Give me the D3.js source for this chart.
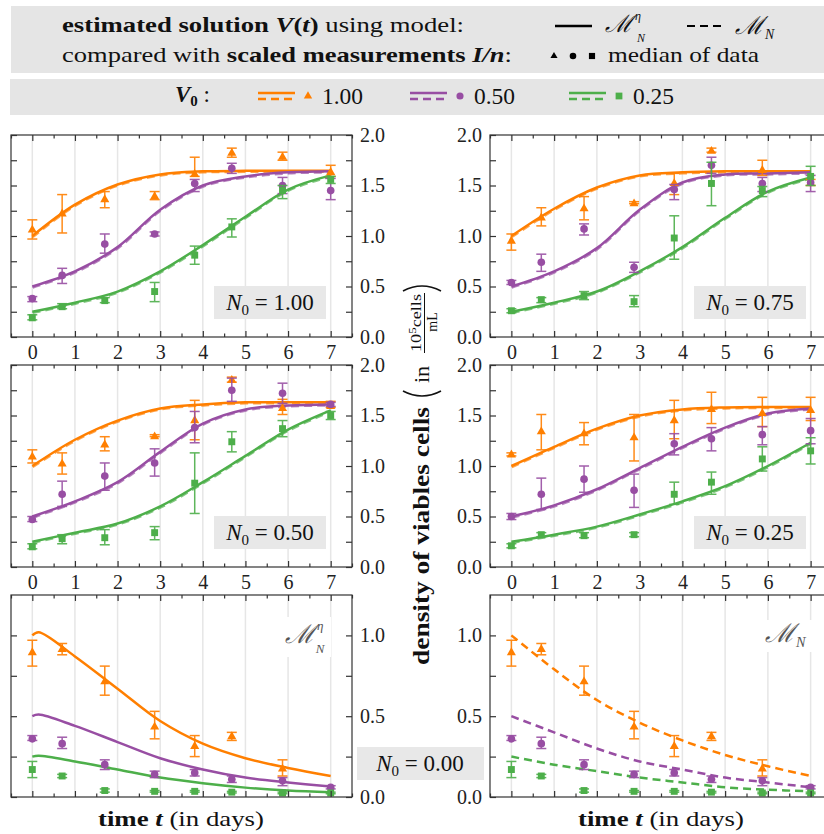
<!DOCTYPE html>
<html>
<head>
<meta charset="utf-8">
<script src="https://cdn.jsdelivr.net/npm/d3@7"></script>
<style>
  body { margin: 0; background: #fff; }
  text { font-family: "Liberation Serif", "DejaVu Serif", serif; }
</style>
</head>
<body>
<div id="chart"></div>
<script>
// ---- data ----
const days = [0, 0.7, 1.7, 2.87, 3.81, 4.68, 5.87, 7];   // measurement times
const fitDays = [0, 1, 2, 3, 4, 5, 6, 7];               // model curve sample points
const fitDaysEta0 = [0, 0.15, 1, 2, 3, 4, 5, 6, 7];     // N0 = 0, model M^eta_N
const v0Labels = ["1.00", "0.50", "0.25"];
const yTicksTop = [0, 0.5, 1, 1.5, 2];
const yTicksBottom = [0, 0.5, 1];

// rows: [orange V0=1, purple V0=0.5, green V0=0.25]
const med_N100 = [[1.07, 1.23, 1.37, 1.40, 1.62, 1.83, 1.79, 1.64],
                  [0.38, 0.61, 0.92, 1.02, 1.52, 1.67, 1.50, 1.45],
                  [0.19, 0.30, 0.36, 0.45, 0.81, 1.09, 1.45, 1.56]];
const lo_N100 = [[0.97, 1.03, 1.28, 1.36, 1.59, 1.78, 1.75, 1.59],
                 [0.35, 0.53, 0.83, 1.00, 1.44, 1.62, 1.42, 1.36],
                 [0.17, 0.28, 0.34, 0.35, 0.72, 0.99, 1.37, 1.52]];
const hi_N100 = [[1.16, 1.41, 1.44, 1.44, 1.78, 1.87, 1.83, 1.70],
                 [0.40, 0.68, 1.02, 1.04, 1.56, 1.72, 1.58, 1.57],
                 [0.22, 0.33, 0.39, 0.54, 0.90, 1.17, 1.50, 1.59]];
const fit_N100 = [[1.00, 1.31, 1.51, 1.61, 1.64, 1.645, 1.645, 1.645],
                  [0.50, 0.65, 0.89, 1.26, 1.50, 1.59, 1.63, 1.64],
                  [0.25, 0.34, 0.45, 0.65, 0.91, 1.19, 1.46, 1.60]];

const med_N075 = [[0.96, 1.19, 1.28, 1.33, 1.53, 1.85, 1.66, 1.53],
                  [0.54, 0.74, 1.07, 0.69, 1.46, 1.70, 1.52, 1.53],
                  [0.26, 0.37, 0.41, 0.35, 0.98, 1.52, 1.45, 1.59]];
const lo_N075 = [[0.86, 1.10, 1.16, 1.32, 1.41, 1.83, 1.60, 1.50],
                 [0.52, 0.65, 1.01, 0.64, 1.36, 1.62, 1.44, 1.44],
                 [0.24, 0.34, 0.37, 0.30, 0.77, 1.30, 1.39, 1.50]];
const hi_N075 = [[1.02, 1.28, 1.39, 1.34, 1.62, 1.87, 1.75, 1.56],
                 [0.56, 0.82, 1.12, 0.74, 1.51, 1.78, 1.58, 1.60],
                 [0.28, 0.39, 0.45, 0.41, 1.20, 1.73, 1.49, 1.69]];
const fit_N075 = [[1.00, 1.27, 1.48, 1.60, 1.63, 1.64, 1.64, 1.64],
                  [0.50, 0.65, 0.88, 1.26, 1.53, 1.61, 1.62, 1.63],
                  [0.25, 0.34, 0.45, 0.65, 0.89, 1.18, 1.44, 1.58]];

const med_N050 = [[1.10, 1.03, 1.22, 1.30, 1.46, 1.86, 1.58, 1.60],
                  [0.47, 0.72, 0.90, 1.03, 1.38, 1.75, 1.72, 1.61],
                  [0.20, 0.28, 0.29, 0.34, 0.83, 1.24, 1.37, 1.50]];
const lo_N050 = [[1.03, 0.92, 1.15, 1.29, 1.26, 1.83, 1.51, 1.58],
                 [0.45, 0.60, 0.76, 0.90, 1.23, 1.64, 1.62, 1.59],
                 [0.18, 0.23, 0.22, 0.27, 0.53, 1.14, 1.29, 1.46]];
const hi_N050 = [[1.16, 1.13, 1.29, 1.31, 1.65, 1.88, 1.66, 1.64],
                 [0.50, 0.85, 1.03, 1.17, 1.54, 1.87, 1.82, 1.63],
                 [0.23, 0.32, 0.37, 0.40, 1.13, 1.34, 1.45, 1.54]];
const fit_N050 = [[1.00, 1.26, 1.45, 1.57, 1.61, 1.63, 1.63, 1.63],
                  [0.50, 0.65, 0.84, 1.14, 1.42, 1.56, 1.60, 1.61],
                  [0.25, 0.34, 0.43, 0.60, 0.84, 1.10, 1.36, 1.55]];

const med_N025 = [[1.12, 1.35, 1.33, 1.29, 1.46, 1.57, 1.53, 1.56],
                  [0.50, 0.72, 0.87, 0.76, 1.22, 1.27, 1.31, 1.35],
                  [0.21, 0.32, 0.31, 0.32, 0.72, 0.84, 1.07, 1.15]];
const lo_N025 = [[1.10, 1.16, 1.21, 1.05, 1.27, 1.42, 1.39, 1.45],
                 [0.47, 0.57, 0.74, 0.59, 1.11, 1.15, 1.21, 1.22],
                 [0.19, 0.30, 0.29, 0.30, 0.62, 0.72, 0.95, 1.02]];
const hi_N025 = [[1.13, 1.51, 1.43, 1.51, 1.65, 1.73, 1.68, 1.68],
                 [0.53, 0.88, 1.00, 0.92, 1.32, 1.38, 1.39, 1.47],
                 [0.23, 0.34, 0.34, 0.34, 0.84, 0.94, 1.19, 1.28]];
const fit_N025 = [[1.00, 1.19, 1.37, 1.50, 1.56, 1.58, 1.585, 1.585],
                  [0.50, 0.61, 0.77, 0.98, 1.19, 1.38, 1.52, 1.57],
                  [0.25, 0.32, 0.40, 0.52, 0.65, 0.80, 1.00, 1.23]];

const med_N000 = [[0.90, 0.92, 0.72, 0.44, 0.32, 0.38, 0.18, null],
                  [0.36, 0.33, 0.20, 0.14, 0.15, 0.11, 0.10, 0.06],
                  [0.17, 0.13, 0.04, 0.035, 0.035, 0.03, 0.025, 0.025]];
const lo_N000 = [[0.81, 0.88, 0.63, 0.36, 0.25, 0.35, 0.13, null],
                 [0.35, 0.30, 0.17, 0.12, 0.13, 0.09, 0.07, 0.05],
                 [0.12, 0.12, 0.03, 0.03, 0.03, 0.025, 0.02, 0.02]];
const hi_N000 = [[0.97, 0.95, 0.81, 0.53, 0.38, 0.40, 0.23, null],
                 [0.38, 0.37, 0.23, 0.16, 0.17, 0.13, 0.12, 0.07],
                 [0.22, 0.14, 0.05, 0.04, 0.04, 0.035, 0.03, 0.03]];
const fitEta_N000 = [[1.00, 1.02, 0.87, 0.67, 0.47, 0.33, 0.24, 0.18, 0.13],
                     [0.50, 0.51, 0.44, 0.34, 0.24, 0.17, 0.12, 0.09, 0.065],
                     [0.25, 0.255, 0.22, 0.17, 0.12, 0.085, 0.058, 0.04, 0.03]];
const fitN_N000 = [[1.00, 0.79, 0.60, 0.46, 0.35, 0.26, 0.19, 0.13],
                   [0.50, 0.40, 0.30, 0.22, 0.17, 0.12, 0.09, 0.06],
                   [0.25, 0.20, 0.16, 0.12, 0.09, 0.06, 0.045, 0.035]];

// ---- layout / style ----
const W = 824, H = 834;
const FONT = '"Liberation Serif", "DejaVu Serif", serif';
const colors = ["#ff7f00", "#984ea3", "#4daf4a"];
const symbols = [d3.symbolTriangle, d3.symbolCircle, d3.symbolSquare];
const symSize = [36, 46, 48];
const cols = [[11, 352], [490, 832]];
const rows = [[135, 337], [365, 567], [595, 797]];
const frameColor = "#333";

const svg = d3.select("#chart").append("svg")
    .attr("width", W).attr("height", H)
    .style("font-family", FONT);

const panels = [
    {col: 0, row: 0, yMax: 2, med: med_N100, lo: lo_N100, hi: hi_N100, solid: fit_N100, dashed: fit_N100, n0: "1.00"},
    {col: 1, row: 0, yMax: 2, med: med_N075, lo: lo_N075, hi: hi_N075, solid: fit_N075, dashed: fit_N075, n0: "0.75"},
    {col: 0, row: 1, yMax: 2, med: med_N050, lo: lo_N050, hi: hi_N050, solid: fit_N050, dashed: fit_N050, n0: "0.50"},
    {col: 1, row: 1, yMax: 2, med: med_N025, lo: lo_N025, hi: hi_N025, solid: fit_N025, dashed: fit_N025, n0: "0.25"},
    {col: 0, row: 2, yMax: 1.25, med: med_N000, lo: lo_N000, hi: hi_N000, solid: fitEta_N000, solidDays: fitDaysEta0, dashed: null},
    {col: 1, row: 2, yMax: 1.25, med: med_N000, lo: lo_N000, hi: hi_N000, solid: null, dashed: fitN_N000}
];

panels.forEach(drawPanel);

function drawPanel(p) {
    const [xl, xr] = cols[p.col], [yt, yb] = rows[p.row];
    const x = d3.scaleLinear().domain([-0.5, 7.5]).range([xl, xr]);
    const y = d3.scaleLinear().domain([0, p.yMax]).range([yb, yt]);
    const g = svg.append("g");

    // vertical grid
    g.append("g").selectAll("line").data(d3.range(0, 8)).join("line")
        .attr("x1", d => x(d)).attr("x2", d => x(d))
        .attr("y1", yt).attr("y2", yb)
        .attr("stroke", "#e6e6e6").attr("stroke-width", 1.5);

    const line = d3.line().curve(d3.curveCatmullRom.alpha(0.5));

    // model curves
    p.med.forEach((_, ci) => {
        if (p.dashed) {
            const pts = fitDays.map((t, i) => [x(t), y(p.dashed[ci][i])]);
            g.append("path").attr("d", line(pts))
                .attr("fill", "none").attr("stroke", colors[ci])
                .attr("stroke-width", 2.5).attr("stroke-dasharray", "8,5")
                .attr("opacity", p.solid ? 0.7 : 1)
                .attr("transform", p.solid ? "translate(0.4,1)" : null);
        }
        if (p.solid) {
            const sd = p.solidDays || fitDays;
            const pts = sd.map((t, i) => [x(t), y(p.solid[ci][i])]);
            g.append("path").attr("d", line(pts))
                .attr("fill", "none").attr("stroke", colors[ci])
                .attr("stroke-width", 2.5);
        }
    });

    // error bars + markers
    p.med.forEach((m, ci) => {
        const pts = days.map((t, i) => ({t, m: m[i], lo: p.lo[ci][i], hi: p.hi[ci][i]}))
            .filter(d => d.m != null);
        const eg = g.append("g").attr("stroke", colors[ci]).attr("stroke-width", 1.5).attr("opacity", 0.9);
        eg.selectAll(".bar").data(pts).join("line")
            .attr("x1", d => x(d.t)).attr("x2", d => x(d.t))
            .attr("y1", d => y(d.lo)).attr("y2", d => y(d.hi));
        eg.selectAll(".capLo").data(pts).join("line")
            .attr("x1", d => x(d.t) - 5).attr("x2", d => x(d.t) + 5)
            .attr("y1", d => y(d.lo)).attr("y2", d => y(d.lo));
        eg.selectAll(".capHi").data(pts).join("line")
            .attr("x1", d => x(d.t) - 5).attr("x2", d => x(d.t) + 5)
            .attr("y1", d => y(d.hi)).attr("y2", d => y(d.hi));
        g.append("g").selectAll("path").data(pts).join("path")
            .attr("d", d3.symbol(symbols[ci], symSize[ci]))
            .attr("transform", d => `translate(${x(d.t)},${y(d.m) + (ci === 0 ? 1 : 0)})`)
            .attr("fill", colors[ci]);
    });

    // frame
    g.append("rect").attr("x", xl).attr("y", yt)
        .attr("width", xr - xl).attr("height", yb - yt)
        .attr("fill", "none").attr("stroke", frameColor).attr("stroke-width", 1.2);

    // ticks (inward) with d3 axes
    const xMaj = d3.range(0, 8), xMin = d3.range(-0.5, 8, 1);
    const yMaj = p.row < 2 ? yTicksTop : yTicksBottom;
    const yMin = p.row < 2 ? [0.25, 0.75, 1.25, 1.75] : [0.25, 0.75];
    const showX = p.row < 2;

    function ax(axis, tx, ty, vals, size, fmt) {
        const a = g.append("g").attr("transform", `translate(${tx},${ty})`)
            .call(axis.tickValues(vals).tickSize(-size).tickPadding(8).tickFormat(fmt || ""));
        a.select(".domain").remove();
        a.selectAll("line").attr("stroke", frameColor).attr("stroke-width", 1.2);
        a.attr("font-size", 20).attr("font-family", null);
        a.selectAll("text").attr("fill", "#222").style("font-family", FONT);
        return a;
    }
    ax(d3.axisBottom(x), 0, yb, xMaj, 6, showX ? d3.format("d") : null);
    ax(d3.axisBottom(x), 0, yb, xMin, 3.5, null);
    ax(d3.axisTop(x), 0, yt, xMaj, 6, null);
    ax(d3.axisTop(x), 0, yt, xMin, 3.5, null);
    ax(d3.axisLeft(y), xl, 0, yMaj, 6, p.col === 1 ? d3.format(".1f") : null);
    ax(d3.axisLeft(y), xl, 0, yMin, 6, null);
    ax(d3.axisRight(y), xr, 0, yMaj, 6, p.col === 0 ? d3.format(".1f") : null);
    ax(d3.axisRight(y), xr, 0, yMin, 6, null);

    // N0 label
    if (p.n0) {
        const bx = p.col === 0 ? 214 : 694;
        g.append("rect").attr("x", bx).attr("y", yb - 51).attr("width", 112).attr("height", 33)
            .attr("fill", "#e8e8e8");
        const t = g.append("text").attr("x", bx + 56).attr("y", yb - 27)
            .attr("text-anchor", "middle").attr("font-size", 23).attr("fill", "#111");
        t.append("tspan").attr("font-style", "italic").text("N");
        t.append("tspan").attr("font-size", 15).attr("dy", 5).text("0");
        t.append("tspan").attr("dy", -5).text(" = " + p.n0);
    }
}

// "M" with optional super/subscript as one text element
function modelLabel(parent, x0, y0, size, sup, sub, fill, subShift) {
    const t = parent.append("text").attr("x", x0).attr("y", y0)
        .attr("font-size", size).attr("fill", fill).attr("font-style", "italic");
    t.append("tspan").text("ℳ");
    if (sup) {
        t.append("tspan").attr("font-size", size * 0.5).attr("dx", 2).attr("dy", -size * 0.5).text(sup);
        t.append("tspan").attr("font-size", size * 0.5).attr("dx", subShift != null ? subShift : -size * 0.3)
            .attr("dy", size * 0.9).text(sub);
    } else {
        t.append("tspan").attr("font-size", size * 0.55).attr("dx", 1).attr("dy", size * 0.2).text(sub);
    }
    return t;
}

// model labels on the N0 = 0 panels
{
    const g = svg.append("g");
    g.append("rect").attr("x", 283).attr("y", 617).attr("width", 48).attr("height", 40).attr("fill", "#fff");
    modelLabel(g, 285, 643, 26, "η", "N", "#555");
    g.append("rect").attr("x", 762).attr("y", 620).attr("width", 50).attr("height", 32).attr("fill", "#fff");
    modelLabel(g, 765, 642, 26, null, "N", "#555");

    // shared N0 = 0.00 label
    svg.append("rect").attr("x", 357).attr("y", 747).attr("width", 127).attr("height", 33).attr("fill", "#e8e8e8");
    const t = svg.append("text").attr("x", 420).attr("y", 771)
        .attr("text-anchor", "middle").attr("font-size", 23).attr("fill", "#111");
    t.append("tspan").attr("font-style", "italic").text("N");
    t.append("tspan").attr("font-size", 15).attr("dy", 5).text("0");
    t.append("tspan").attr("dy", -5).text(" = 0.00");
}

// x axis titles
[181, 661].forEach(cx => {
    const t = svg.append("text").attr("x", cx).attr("y", 826).attr("text-anchor", "middle")
        .attr("font-size", 22).attr("fill", "#111")
        .attr("textLength", 166).attr("lengthAdjust", "spacingAndGlyphs");
    t.append("tspan").attr("font-weight", "bold").text("time ");
    t.append("tspan").attr("font-weight", "bold").attr("font-style", "italic").text("t");
    t.append("tspan").text(" (in days)");
});

// y axis title (rotated, centre column)
{
    const g = svg.append("g").attr("transform", "translate(429,665) rotate(-90)").attr("fill", "#111");
    g.append("text").attr("x", 0).attr("y", 0).attr("font-size", 23).attr("font-weight", "bold")
        .attr("textLength", 258).attr("lengthAdjust", "spacingAndGlyphs")
        .text("density of viables cells");
    g.append("path").attr("d", "M274,-26 Q264,-7 274,12").attr("fill", "none").attr("stroke", "#111").attr("stroke-width", 1.6);
    g.append("text").attr("x", 282).attr("y", 0).attr("font-size", 22).text("in");
    const num = g.append("text").attr("x", 313).attr("y", -8).attr("font-size", 14)
        .attr("textLength", 58).attr("lengthAdjust", "spacingAndGlyphs");
    num.append("tspan").text("10");
    num.append("tspan").attr("font-size", 10).attr("dy", -5).text("5");
    num.append("tspan").attr("dy", 5).text("cells");
    g.append("line").attr("x1", 312).attr("x2", 372).attr("y1", -4.5).attr("y2", -4.5)
        .attr("stroke", "#111").attr("stroke-width", 1);
    g.append("text").attr("x", 343).attr("y", 8).attr("font-size", 14).attr("text-anchor", "middle").text("mL");
    g.append("path").attr("d", "M374,-26 Q384,-7 374,12").attr("fill", "none").attr("stroke", "#111").attr("stroke-width", 1.6);
}

// ---- legend ----
{
    const lg = svg.append("g");
    lg.append("rect").attr("x", 11).attr("y", 6).attr("width", W - 11).attr("height", 67).attr("fill", "#e5e5e5");
    lg.append("rect").attr("x", 10).attr("y", 79).attr("width", W - 10).attr("height", 36).attr("fill", "#e5e5e5");

    const l1 = lg.append("text").attr("x", 62).attr("y", 32).attr("font-size", 22).attr("fill", "#111")
        .attr("textLength", 402).attr("lengthAdjust", "spacingAndGlyphs");
    l1.append("tspan").attr("font-weight", "bold").text("estimated solution ");
    l1.append("tspan").attr("font-weight", "bold").attr("font-style", "italic").text("V");
    l1.append("tspan").attr("font-weight", "bold").text("(");
    l1.append("tspan").attr("font-weight", "bold").attr("font-style", "italic").text("t");
    l1.append("tspan").attr("font-weight", "bold").text(")");
    l1.append("tspan").text(" using model:");

    const l2 = lg.append("text").attr("x", 62).attr("y", 62).attr("font-size", 22).attr("fill", "#111")
        .attr("textLength", 450).attr("lengthAdjust", "spacingAndGlyphs");
    l2.append("tspan").text("compared with ");
    l2.append("tspan").attr("font-weight", "bold").text("scaled measurements ");
    l2.append("tspan").attr("font-weight", "bold").attr("font-style", "italic").text("I/n");
    l2.append("tspan").text(":");

    // model line styles
    lg.append("line").attr("x1", 555).attr("x2", 592).attr("y1", 26).attr("y2", 26)
        .attr("stroke", "#000").attr("stroke-width", 2.5);
    modelLabel(lg, 605, 32, 24, "η", "N", "#111", -4);
    lg.append("line").attr("x1", 687).attr("x2", 725).attr("y1", 26).attr("y2", 26)
        .attr("stroke", "#000").attr("stroke-width", 2.2).attr("stroke-dasharray", "8,5");
    modelLabel(lg, 735, 34, 25, null, "N", "#111");

    // data marker shapes
    [554, 573, 592].forEach((mx, i) => {
        lg.append("path").attr("d", d3.symbol(symbols[i], [22, 34, 38][i]))
            .attr("transform", `translate(${mx},${56})`).attr("fill", "#000");
    });
    lg.append("text").attr("x", 608).attr("y", 62).attr("font-size", 22).attr("fill", "#111")
        .attr("textLength", 151).attr("lengthAdjust", "spacingAndGlyphs").text("median of data");

    // V0 row
    const v = lg.append("text").attr("x", 175).attr("y", 102).attr("font-size", 23).attr("fill", "#111");
    v.append("tspan").attr("font-weight", "bold").attr("font-style", "italic").text("V");
    v.append("tspan").attr("font-weight", "bold").attr("font-size", 15).attr("dy", 4).text("0");
    v.append("tspan").attr("dy", -4).text(" :");

    const v0x = [258, 410, 569];
    v0Labels.forEach((lab, i) => {
        const x0 = v0x[i];
        lg.append("line").attr("x1", x0).attr("x2", x0 + 37).attr("y1", 93).attr("y2", 93)
            .attr("stroke", colors[i]).attr("stroke-width", 2.5);
        lg.append("line").attr("x1", x0).attr("x2", x0 + 37).attr("y1", 99).attr("y2", 99)
            .attr("stroke", colors[i]).attr("stroke-width", 2.5).attr("stroke-dasharray", "8,5");
        lg.append("path").attr("d", d3.symbol(symbols[i], [30, 40, 46][i]))
            .attr("transform", `translate(${x0 + 50},${96})`).attr("fill", colors[i]);
        lg.append("text").attr("x", x0 + 64).attr("y", 104).attr("font-size", 23).attr("fill", "#111")
            .attr("textLength", 41).attr("lengthAdjust", "spacingAndGlyphs").text(lab);
    });
}
</script>
</body>
</html>
